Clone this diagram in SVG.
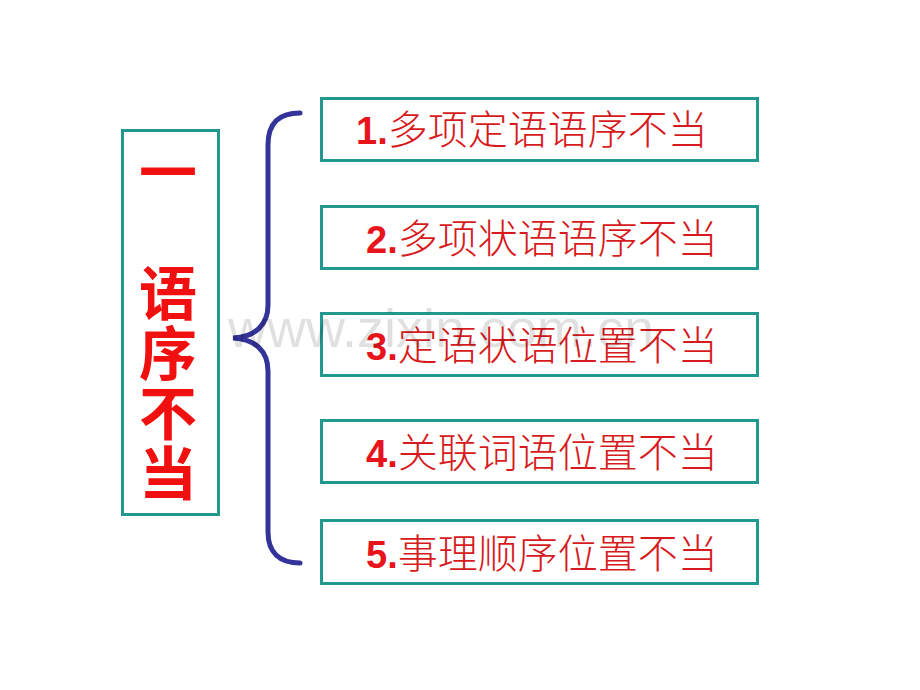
<svg xmlns="http://www.w3.org/2000/svg" width="920" height="690" viewBox="0 0 920 690">
<style>
.box{fill:#fff;stroke:#22998e;stroke-width:3}
.num{font-family:"Liberation Sans",Arial,sans-serif;font-weight:bold;font-size:38px;fill:#e8141c}
.cjk{font-family:"Noto Sans CJK SC","Noto Sans",sans-serif;font-weight:300;font-size:40px;fill:#d61a20}
.big{font-family:"Noto Sans CJK SC",sans-serif;font-weight:bold;font-size:58px;fill:#f01010}
.wm{font-family:"Liberation Sans",Arial,sans-serif;font-size:54px;fill:#000;fill-opacity:0.12}
</style>
<rect width="920" height="690" fill="#fff"/>
<g id="root">
<rect class="box" x="122.5" y="130.5" width="96" height="384"/>
<text class="big" x="168" y="194" text-anchor="middle">一</text>
<text class="big" x="168" y="315" text-anchor="middle">语</text>
<text class="big" x="168" y="375" text-anchor="middle">序</text>
<text class="big" x="168" y="435" text-anchor="middle">不</text>
<text class="big" x="168" y="495" text-anchor="middle">当</text>
</g>
<g id="connectors">
<path d="M300,113 C280,113 268,122 268,145 L268,305 C268,325 255,337 233,338 C255,339 268,351 268,371 L268,532 C268,553 280,563 300,563" fill="none" stroke="#333399" stroke-width="5" stroke-linecap="round"/>
</g>
<g id="n1">
<rect class="box" x="321.5" y="98.5" width="436" height="62"/>
<text x="356" y="144"><tspan class="num">1.</tspan><tspan class="cjk">多项定语语序不当</tspan></text>
</g>
<g id="n2">
<rect class="box" x="321.5" y="206.5" width="436" height="62"/>
<text x="366" y="253"><tspan class="num">2.</tspan><tspan class="cjk">多项状语语序不当</tspan></text>
</g>
<g id="n3">
<rect class="box" x="321.5" y="313.5" width="436" height="62"/>
<text x="366" y="360"><tspan class="num">3.</tspan><tspan class="cjk">定语状语位置不当</tspan></text>
</g>
<g id="n4">
<rect class="box" x="321.5" y="420.5" width="436" height="62"/>
<text x="366" y="467"><tspan class="num">4.</tspan><tspan class="cjk">关联词语位置不当</tspan></text>
</g>
<g id="n5">
<rect class="box" x="321.5" y="520.5" width="436" height="63"/>
<text x="366" y="568"><tspan class="num">5.</tspan><tspan class="cjk">事理顺序位置不当</tspan></text>
</g>
<text class="wm" x="228" y="347">www.zixin.com.cn</text>
</svg>
